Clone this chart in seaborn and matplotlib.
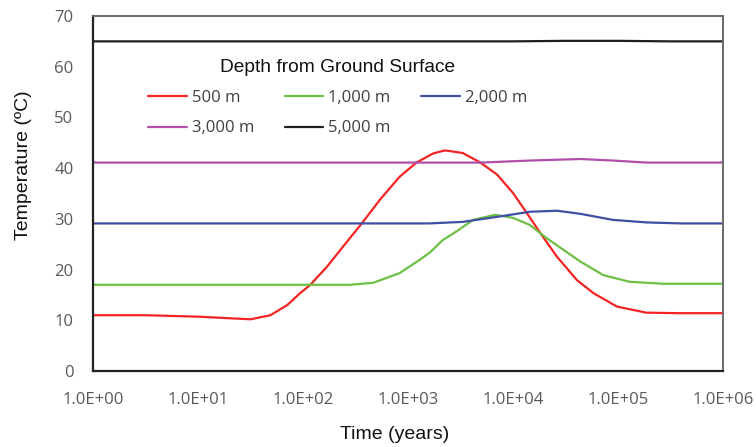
import numpy as np
import pandas as pd
import matplotlib
matplotlib.use("Agg")
import matplotlib.pyplot as plt
import seaborn as sns

# ---- data (log10 of time in years, temperature in degC) ----
logt_500 = [0.0, 0.5, 1.02, 1.3, 1.5, 1.69, 1.85, 1.97, 2.07, 2.23, 2.38, 2.56, 2.73, 2.92,
            3.08, 3.24, 3.35, 3.52, 3.69, 3.85, 4.0, 4.13, 4.26, 4.42, 4.61, 4.77, 4.99,
            5.27, 5.59, 6.0]
temp_500 = [11.0, 11.0, 10.7, 10.4, 10.2, 11.0, 13.0, 15.3, 17.0, 20.6, 24.5, 29.1, 33.7, 38.3,
            41.1, 42.9, 43.5, 43.0, 41.1, 38.7, 35.1, 31.2, 27.2, 22.5, 17.9, 15.3, 12.7,
            11.5, 11.4, 11.4]

logt_1000 = [0.0, 1.0, 2.0, 2.45, 2.67, 2.92, 3.11, 3.21, 3.33, 3.46, 3.62, 3.83, 4.0, 4.16,
             4.32, 4.48, 4.64, 4.86, 5.11, 5.43, 6.0]
temp_1000 = [17.0, 17.0, 17.0, 17.0, 17.4, 19.3, 21.9, 23.4, 25.8, 27.5, 29.8, 30.8, 30.2, 28.8,
             26.2, 23.9, 21.6, 18.9, 17.6, 17.2, 17.2]

logt_2000 = [0.0, 1.0, 2.0, 3.0, 3.2, 3.52, 3.85, 4.16, 4.42, 4.64, 4.95, 5.27, 5.6, 6.0]
temp_2000 = [29.1, 29.1, 29.1, 29.1, 29.1, 29.4, 30.4, 31.4, 31.6, 31.0, 29.8, 29.3, 29.1, 29.1]

logt_3000 = [0.0, 1.0, 2.0, 3.0, 3.7, 4.16, 4.64, 4.95, 5.27, 6.0]
temp_3000 = [41.1, 41.1, 41.1, 41.1, 41.1, 41.5, 41.8, 41.5, 41.1, 41.1]

logt_5000 = [0.0, 2.0, 4.0, 4.5, 5.0, 5.5, 6.0]
temp_5000 = [65.0, 65.0, 65.0, 65.1, 65.1, 65.0, 65.0]

series_names = ["500 m", "1,000 m", "2,000 m", "3,000 m", "5,000 m"]
series_logt = [logt_500, logt_1000, logt_2000, logt_3000, logt_5000]
series_temp = [temp_500, temp_1000, temp_2000, temp_3000, temp_5000]
colors = ["#F42424", "#6DBF45", "#3E4FA5", "#B04EA8", "#1E1E1E"]

xtick_labels = ["1.0E+00", "1.0E+01", "1.0E+02", "1.0E+03", "1.0E+04", "1.0E+05", "1.0E+06"]

frames = []
for name, lt, tv in zip(series_names, series_logt, series_temp):
    frames.append(pd.DataFrame({"time": 10 ** np.array(lt), "temp": tv, "depth": name}))
df = pd.concat(frames, ignore_index=True)

sns.set_style("white")
plt.rcParams["font.family"] = ["Open Sans", "DejaVu Sans"]

fig = plt.figure(figsize=(7.56, 4.47), dpi=100)
ax = fig.add_axes([93 / 756, 1 - 371 / 447, 630 / 756, 355 / 447])

sns.lineplot(data=df, x="time", y="temp", hue="depth", hue_order=series_names,
             palette=dict(zip(series_names, colors)), linewidth=1.6, ax=ax,
             sort=False, estimator=None, legend=False)

ax.set_xscale("log")
ax.set_xlim(1, 1e6)
ax.set_ylim(0, 70)
ax.set_xticks([10 ** i for i in range(7)])
ax.set_xticklabels(xtick_labels)
ax.xaxis.set_minor_locator(matplotlib.ticker.NullLocator())
ax.set_yticks(range(0, 71, 10))

ax.tick_params(axis="x", direction="in", length=5, width=1, color="#555555",
               labelsize=12, labelcolor="#595959", pad=15, top=False)
ax.tick_params(axis="y", direction="out", length=5, width=1, color="#555555",
               labelsize=12, labelcolor="#595959", pad=9, right=False)

for s in ["left", "bottom"]:
    ax.spines[s].set_color("#222222")
    ax.spines[s].set_linewidth(1.6)
for s in ["top", "right"]:
    ax.spines[s].set_color("#6a6a6a")
    ax.spines[s].set_linewidth(1.4)

ax.set_xlabel("Time (years)", fontsize=14, family=["Liberation Sans", "DejaVu Sans"],
              color="#111111")
ax.set_ylabel("Temperature (ºC)", fontsize=14, family=["Liberation Sans", "DejaVu Sans"],
              color="#111111")
ax.xaxis.set_label_coords(0.478, -0.155)
ax.yaxis.set_label_coords(-0.097, 0.58)

# legend (row-major order via column-major reordering)
handles = [matplotlib.lines.Line2D([], [], color=c, lw=1.6) for c in colors]
order = [0, 3, 1, 4, 2]
leg = ax.legend([handles[i] for i in order], [series_names[i] for i in order],
                ncol=3, title="Depth from Ground Surface", frameon=False,
                loc="upper left", bbox_to_anchor=(0.064, 0.922),
                fontsize=12, title_fontsize=13.8, handlelength=2.3, handletextpad=0.3,
                columnspacing=1.85, labelspacing=0.86)
for t in leg.get_texts():
    t.set_color("#404040")
leg.get_title().set_family(["Liberation Sans", "DejaVu Sans"])
leg.get_title().set_color("#111111")

fig.savefig("out.png", dpi=100)
